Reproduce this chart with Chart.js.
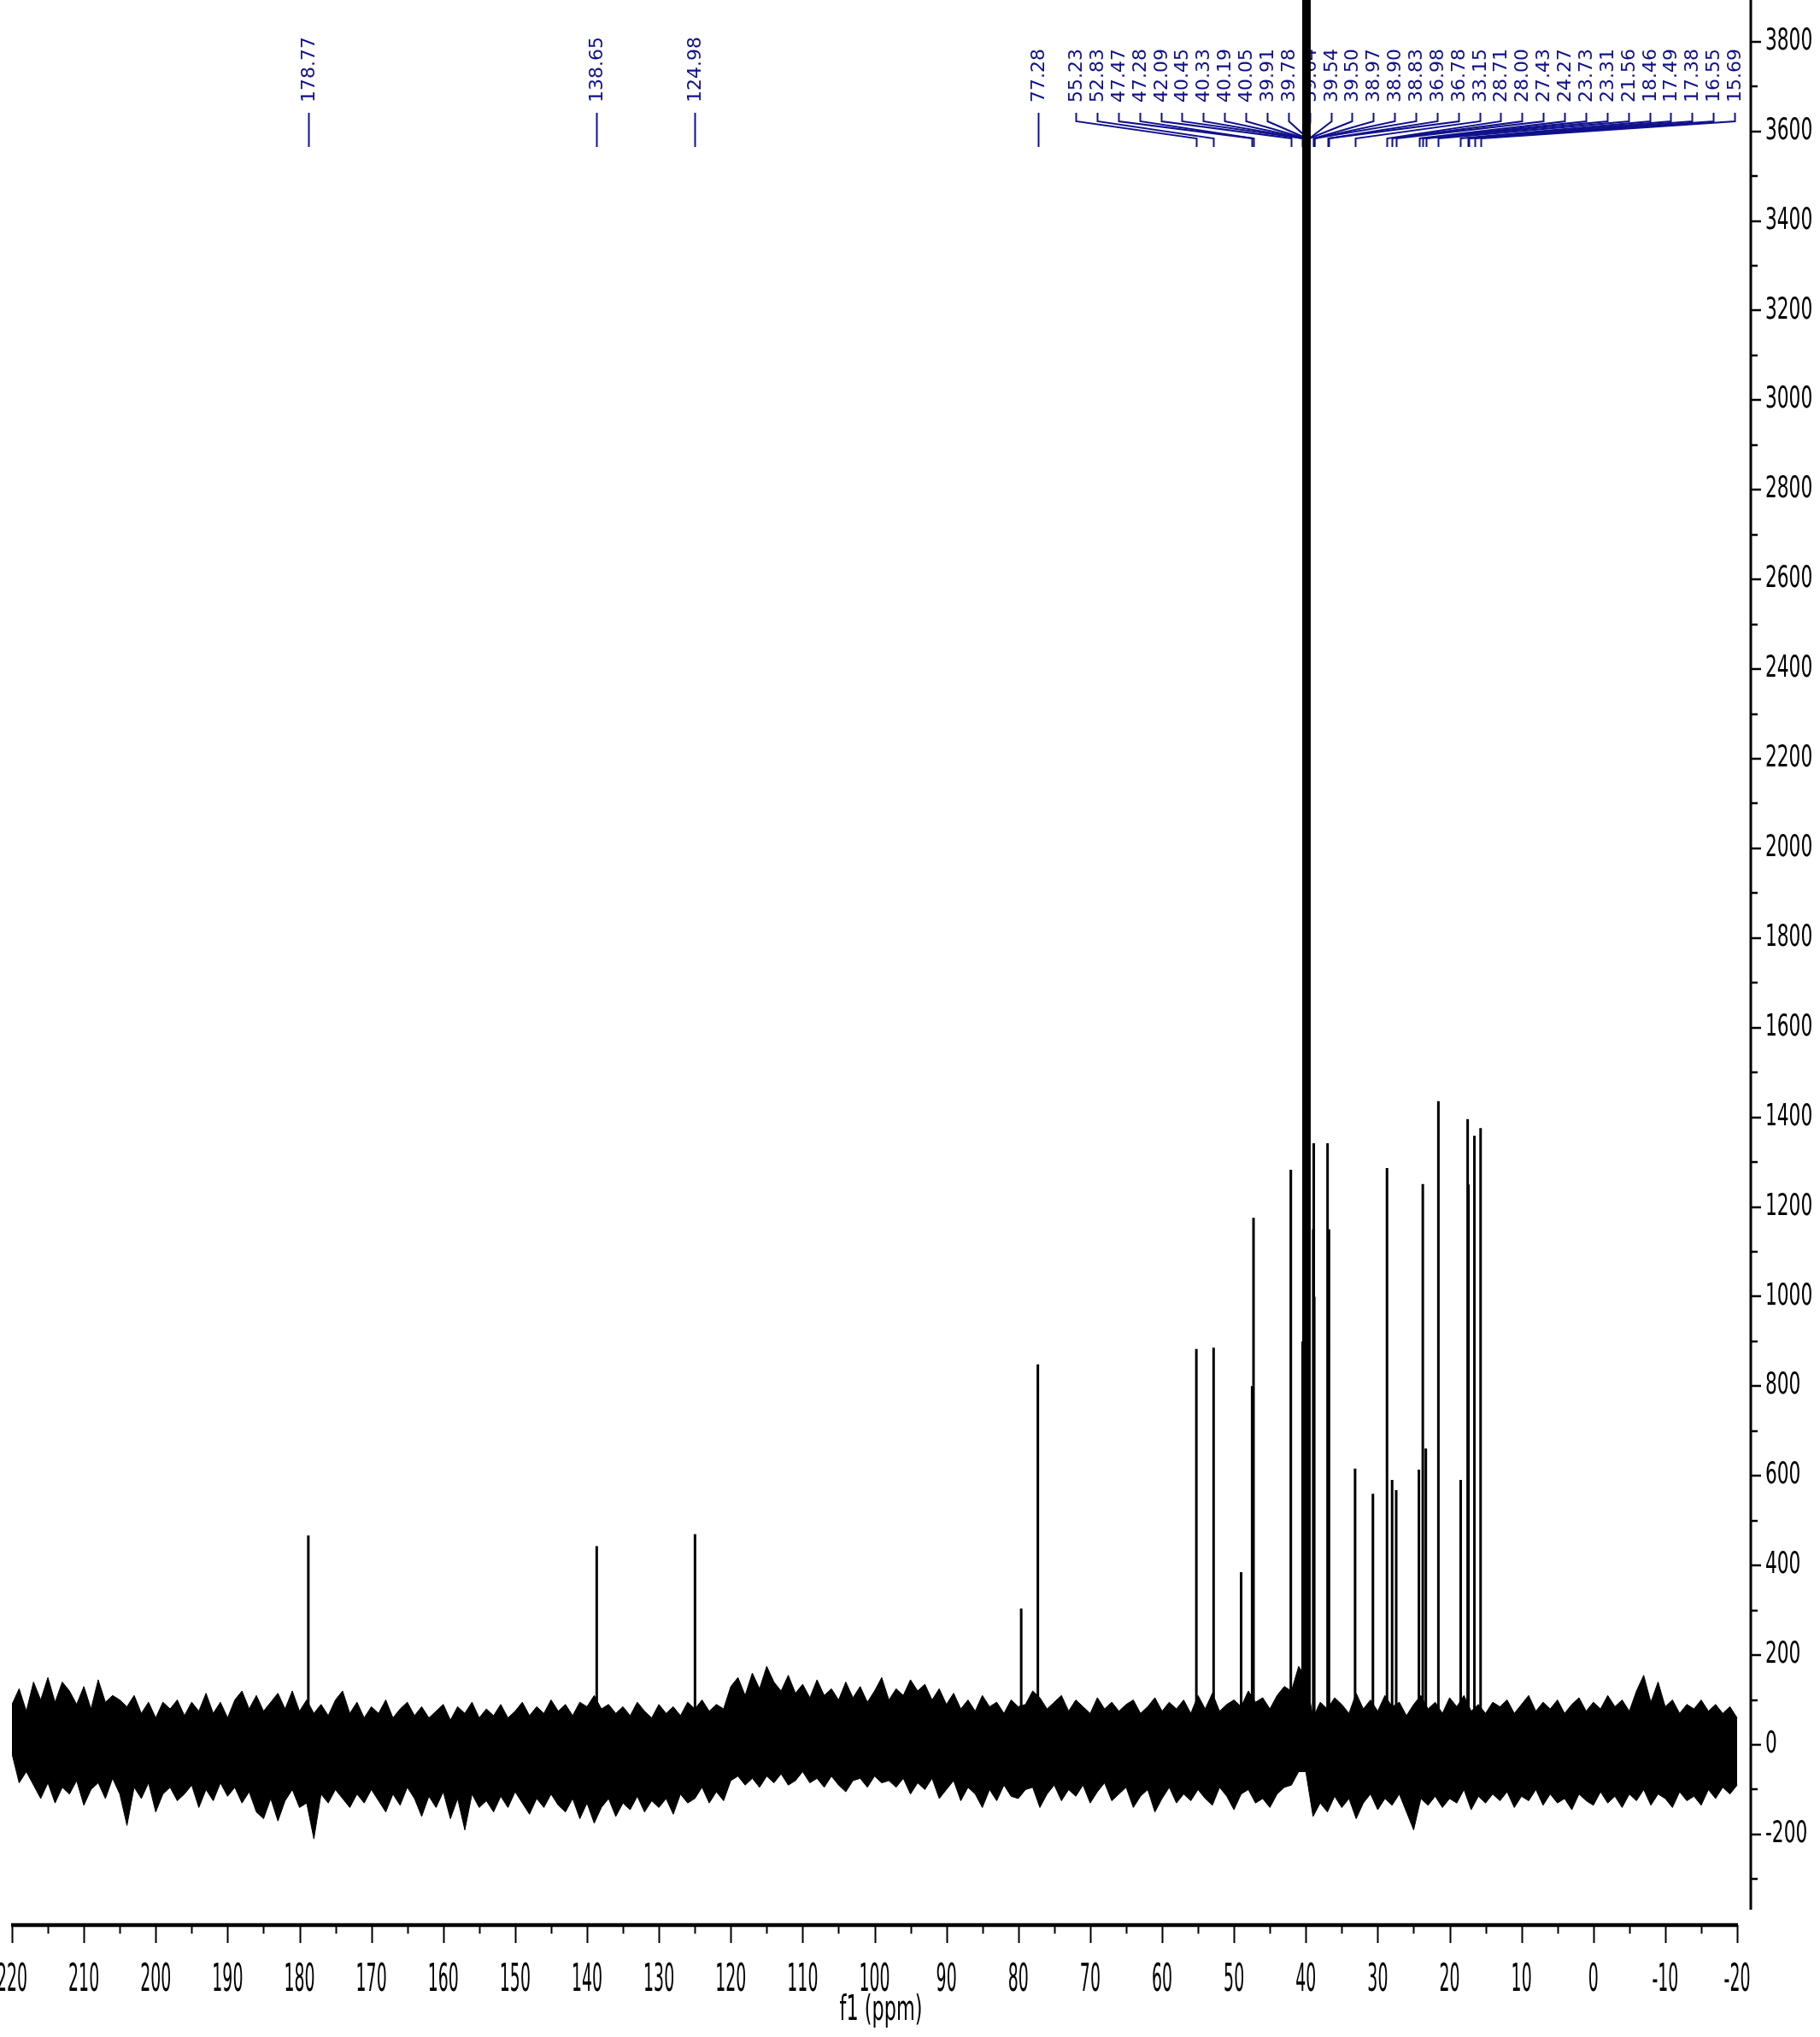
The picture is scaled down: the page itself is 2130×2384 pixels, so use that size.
<!DOCTYPE html>
<html><head><meta charset="utf-8">
<script src="https://cdn.jsdelivr.net/npm/chart.js@4.4.1/dist/chart.umd.min.js"></script>
<style>html,body{margin:0;padding:0;background:#fff}canvas{display:block}</style>
</head><body>
<canvas id="c" width="2130" height="2384"></canvas>
<script>
// ---------- DATA ----------
// noise band envelope, one value per ppm from 220 down to -20
const noiseStartPpm = 220;
const noiseStepPpm = -1;
const noiseHigh = [
 90,125,75,140,100,150,95,140,120,90,
 130,80,145,95,110,100,85,110,70,95,
 60,95,80,100,65,95,75,115,70,95,
 60,100,120,80,110,75,95,115,80,120,
 75,100,70,90,65,100,120,70,95,60,
 85,70,100,60,80,95,65,85,60,75,
 90,55,85,70,95,60,80,65,90,60,
 75,95,65,85,70,100,75,90,65,95,
 85,110,80,90,70,85,65,95,75,60,
 90,70,85,65,95,80,100,75,90,80,
 130,150,110,160,125,175,140,120,155,115,
 135,105,145,110,125,100,140,105,130,95,
 120,150,100,125,110,145,120,135,100,125,
 90,115,80,100,75,110,85,95,70,100,
 85,90,120,105,80,95,110,75,100,85,
 70,105,80,95,75,90,100,70,85,105,
 75,95,80,100,70,110,80,115,75,90,
 100,85,120,95,105,80,110,130,120,175,
 150,60,95,80,105,90,70,115,80,100,
 75,110,85,95,65,90,110,80,95,70,
 105,85,110,75,90,70,95,85,100,70,
 90,110,75,95,80,100,70,90,105,75,
 95,80,110,85,100,75,120,155,95,140,
 85,100,70,90,80,100,75,90,70,85,
 60
];
const noiseLow = [
 -20,-85,-60,-90,-120,-85,-130,-95,-110,-80,
 -135,-100,-85,-120,-75,-110,-180,-95,-120,-85,
 -150,-110,-95,-125,-110,-90,-140,-100,-125,-85,
 -115,-95,-130,-105,-150,-165,-120,-170,-125,-100,
 -140,-130,-210,-110,-130,-100,-120,-140,-110,-130,
 -100,-125,-150,-110,-135,-95,-120,-160,-115,-140,
 -105,-165,-120,-190,-110,-140,-125,-150,-115,-140,
 -105,-130,-155,-120,-140,-110,-135,-150,-120,-165,
 -130,-175,-140,-120,-160,-130,-145,-115,-150,-125,
 -140,-120,-155,-110,-130,-120,-95,-130,-105,-125,
 -80,-70,-90,-75,-95,-70,-85,-65,-90,-80,
 -60,-85,-75,-95,-70,-90,-105,-80,-75,-95,
 -70,-85,-80,-95,-75,-110,-85,-100,-75,-120,
 -100,-80,-125,-95,-110,-140,-100,-125,-90,-115,
 -120,-100,-95,-140,-110,-90,-125,-100,-115,-90,
 -130,-105,-85,-125,-110,-95,-140,-115,-100,-150,
 -120,-95,-130,-110,-125,-100,-120,-135,-95,-115,
 -145,-110,-100,-130,-120,-140,-110,-95,-90,-60,
 -60,-160,-130,-150,-115,-140,-120,-165,-130,-110,
 -145,-120,-135,-110,-150,-190,-120,-135,-115,-140,
 -120,-130,-100,-145,-115,-130,-110,-125,-105,-140,
 -115,-125,-100,-135,-110,-130,-120,-145,-110,-125,
 -135,-105,-130,-115,-140,-110,-125,-100,-135,-110,
 -120,-140,-105,-125,-115,-135,-100,-120,-95,-110,
 -90
];
// resolved peaks (ppm, intensity); the solvent lines run off the top of the plot
const peakPpm = [178.77,138.65,124.98,79.6,77.28,55.23,52.83,49.0,47.47,47.28,42.09,
 40.45,40.33,40.19,40.05,39.91,39.78,39.64,39.54,39.50,38.97,38.90,38.83,36.98,36.78,
 33.15,30.67,28.71,28.00,27.43,24.27,23.73,23.31,21.56,18.46,17.49,17.38,16.55,15.69];
const peakHeight = [467,443,470,304,849,883,886,385,800,1176,1283,
 900,5000,5000,5000,5000,5000,5000,5000,5000,1150,1342,1000,1342,1150,
 616,560,1287,591,568,614,1251,661,1436,591,1396,1250,1359,1376];
// peak pick labels
const singleLabels = ['178.77','138.65','124.98','77.28'];
const clusterLabels = ['55.23','52.83','47.47','47.28','42.09','40.45','40.33','40.19','40.05',
 '39.91','39.78','39.64','39.54','39.50','38.97','38.90','38.83','36.98','36.78','33.15',
 '28.71','28.00','27.43','24.27','23.73','23.31','21.56','18.46','17.49','17.38','16.55','15.69'];
// axis ticks
const xTickValues = [220,215,210,205,200,195,190,185,180,175,170,165,160,155,150,145,140,135,130,125,
 120,115,110,105,100,95,90,85,80,75,70,65,60,55,50,45,40,35,30,25,20,15,10,5,0,-5,-10,-15,-20];
const xLabelValues = [220,210,200,190,180,170,160,150,140,130,120,110,100,90,80,70,60,50,40,30,20,10,0,-10,-20];
const yTickValues = [-300,-200,-100,0,100,200,300,400,500,600,700,800,900,1000,1100,1200,1300,1400,1500,
 1600,1700,1800,1900,2000,2100,2200,2300,2400,2500,2600,2700,2800,2900,3000,3100,3200,3300,3400,3500,3600,3700,3800];
const yLabelValues = [-200,0,200,400,600,800,1000,1200,1400,1600,1800,2000,2200,2400,2600,2800,3000,3200,3400,3600,3800];

// ---------- STYLE ----------
const AXIS_FONT = "'DejaVu Sans', Verdana, sans-serif";
const LABEL_FONT = "22px 'DejaVu Sans', Verdana, sans-serif";
const LABEL_COLOR = '#10108c';

const hiPts = noiseHigh.map((v, i) => ({x: noiseStartPpm + i * noiseStepPpm, y: v}));
const loPts = noiseLow.map((v, i) => ({x: noiseStartPpm + i * noiseStepPpm, y: v}));
const peakPts = [];
peakPpm.forEach((p, i) => { peakPts.push({x: p, y: 0}, {x: p, y: peakHeight[i]}, {x: p, y: null}); });

// draw the axis texts narrow (condensed), as in the original export
function squeeze(scale, method, factor) {
  const key = '_sq_' + method;
  if (scale[key]) return;
  const orig = scale[method];
  scale[method] = function (...args) {
    const ctx = this.ctx;
    const proto = CanvasRenderingContext2D.prototype.fillText;
    ctx.fillText = function (t, x, y, mw) {
      const w = this.measureText(t).width * factor;
      proto.call(this, t, x, y, mw !== undefined ? Math.min(mw, w) : w);
    };
    try { return orig.apply(this, args); } finally { delete ctx.fillText; }
  };
  scale[key] = true;
}

const squeezePlugin = {
  id: 'squeezeAxisText',
  beforeDraw(chart) {
    squeeze(chart.scales.x, 'drawLabels', 0.43);
    squeeze(chart.scales.x, 'drawTitle', 0.56);
    squeeze(chart.scales.y, 'drawLabels', 0.62);
  }
};

const axesPlugin = {
  id: 'nmrAxes',
  afterDraw(chart) {
    const c = chart.ctx, xs = chart.scales.x, ys = chart.scales.y, ca = chart.chartArea;
    c.save();
    c.strokeStyle = '#000';
    // x axis
    const yb = ca.bottom + 1;
    c.lineWidth = 4.5;
    c.beginPath();
    c.moveTo(xs.getPixelForValue(220) - 1, yb);
    c.lineTo(xs.getPixelForValue(-20) + 1, yb);
    c.stroke();
    c.lineWidth = 2;
    xs.ticks.forEach(t => {
      const px = Math.round(xs.getPixelForValue(t.value)) + 0.5;
      const len = xLabelValues.includes(t.value) ? 21 : 10;
      c.beginPath(); c.moveTo(px, yb); c.lineTo(px, yb + len); c.stroke();
    });
    // y axis
    const xr = ca.right + 1;
    c.lineWidth = 3;
    c.beginPath();
    c.moveTo(xr, ca.top);
    c.lineTo(xr, ys.getPixelForValue(-368));
    c.stroke();
    c.lineWidth = 2.5;
    ys.ticks.forEach(t => {
      const py = Math.round(ys.getPixelForValue(t.value));
      const len = yLabelValues.includes(t.value) ? 12 : 8;
      c.beginPath(); c.moveTo(xr, py); c.lineTo(xr + len, py); c.stroke();
    });
    c.restore();
  }
};

function vText(c, txt, x, yBottom) {
  c.save();
  c.translate(x, yBottom);
  c.rotate(-Math.PI / 2);
  c.textAlign = 'left';
  c.textBaseline = 'middle';
  c.fillText(txt, 0, 0);
  c.restore();
}

const peakLabelPlugin = {
  id: 'peakLabels',
  beforeDatasetsDraw(chart) {
    const c = chart.ctx, xs = chart.scales.x;
    c.save();
    c.fillStyle = LABEL_COLOR;
    c.strokeStyle = LABEL_COLOR;
    c.font = LABEL_FONT;
    c.lineWidth = 2;
    const textBottom = 120, stubTop = 132, diagTop = 142, diagBottom = 162, lineBottom = 172;
    singleLabels.forEach(s => {
      const px = Math.round(xs.getPixelForValue(parseFloat(s))) + 0.5;
      vText(c, s, px + 1, textBottom);
      c.beginPath(); c.moveTo(px, stubTop); c.lineTo(px, lineBottom); c.stroke();
    });
    const L = xs.getPixelForValue(72.0), R = xs.getPixelForValue(-19.65);
    const n = clusterLabels.length;
    clusterLabels.forEach((s, i) => {
      const lx = Math.round(L + i * (R - L) / (n - 1)) + 0.5;
      const px = Math.round(xs.getPixelForValue(parseFloat(s))) + 0.5;
      vText(c, s, lx + 1, textBottom);
      c.beginPath();
      c.moveTo(lx, stubTop); c.lineTo(lx, diagTop);
      c.lineTo(px, diagBottom); c.lineTo(px, lineBottom);
      c.stroke();
    });
    c.restore();
  }
};

new Chart(document.getElementById('c').getContext('2d'), {
  type: 'line',
  data: {
    datasets: [
      {data: hiPts, borderColor: '#000', backgroundColor: '#000', borderWidth: 1, pointRadius: 0, fill: '+1', tension: 0},
      {data: loPts, borderColor: '#000', backgroundColor: '#000', borderWidth: 1, pointRadius: 0, fill: false, tension: 0},
      {data: peakPts, borderColor: '#000', borderWidth: 3, pointRadius: 0, fill: false, spanGaps: false, tension: 0}
    ]
  },
  options: {
    responsive: false,
    animation: false,
    devicePixelRatio: 1,
    layout: {padding: {left: 14, right: 0, top: 0, bottom: 0}},
    plugins: {legend: {display: false}, tooltip: {enabled: false}},
    scales: {
      x: {
        type: 'linear', reverse: true, min: -21.78, max: 220,
        afterBuildTicks: a => { a.ticks = xTickValues.map(v => ({value: v})); },
        afterFit: s => { s.paddingLeft = 0; s.paddingRight = 0; s.height = 132; },
        grid: {display: false}, border: {display: false},
        ticks: {autoSkip: false, maxRotation: 0, minRotation: 0, padding: 32, color: '#000',
          font: {family: AXIS_FONT, size: 44},
          callback: v => xLabelValues.includes(v) ? String(v) : ''},
        title: {display: true, text: 'f1 (ppm)', color: '#000', font: {family: AXIS_FONT, size: 40}, padding: {top: 0, bottom: 6}}
      },
      y: {
        type: 'linear', position: 'right', min: -400.4, max: 3893,
        afterBuildTicks: a => { a.ticks = yTickValues.map(v => ({value: v})); },
        afterFit: s => { s.width = 82; s.paddingTop = 0; s.paddingBottom = 0; },
        grid: {display: false}, border: {display: false},
        ticks: {autoSkip: false, padding: 10, color: '#000', font: {family: AXIS_FONT, size: 35},
          callback: v => yLabelValues.includes(v) ? String(v) : ''}
      }
    }
  },
  plugins: [squeezePlugin, axesPlugin, peakLabelPlugin]
});
</script>
</body></html>
